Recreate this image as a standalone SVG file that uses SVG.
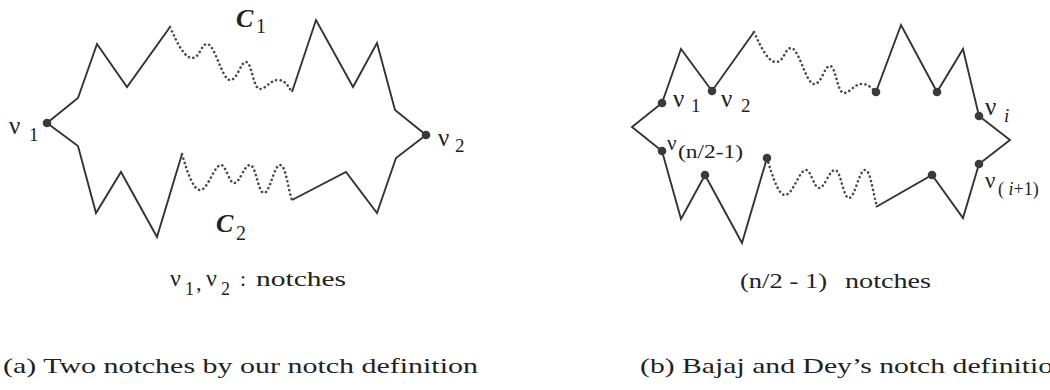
<svg xmlns="http://www.w3.org/2000/svg" width="1050" height="390" viewBox="0 0 1050 390">
<style>
.solid{fill:none;stroke:#333;stroke-width:1.9;stroke-linejoin:miter}
.dot{fill:none;stroke:#4a4a4a;stroke-width:2.6;stroke-dasharray:0.1 4.4;stroke-linecap:round}
.pt{fill:#3a3a3a}
.lbl{font-family:"Liberation Serif","Times New Roman",serif;fill:#222}
.cap{font-family:"Liberation Serif","Times New Roman",serif;fill:#222;font-size:22px}
.curve{font-family:"Liberation Serif","Times New Roman",serif;font-weight:bold;font-style:italic;fill:#222}
.sub{font-family:"Liberation Serif","Times New Roman",serif;fill:#222}
</style>
<g id="connectors">
  <!-- left figure -->
  <polyline class="solid" points="170,27 127,87 97,44 78,98 47,123 78,146 96,213 121,172 157,237 182,154"/>
  <polyline class="solid" points="292,92 316,20 353,87 377,43 395,110 426,135 396,158 377,213 346,172 292,200"/>
  <path class="dot" d="M170,27 C178,45 185,58 192,58 C200,58 201,44 207,44 C215,44 222,80 230,80 C238,80 240,62 246,62 C252,62 253,89 260,89 C266,89 270,80 278,80 C285,80 288,86 292,92"/>
  <path class="dot" d="M182,154 C188,175 194,190 200,190 C208,190 214,165 221,165 C226,165 229,183 234,183 C240,183 244,165 250,165 C256,165 258,193 264,193 C270,193 274,165 280,165 C286,165 288,190 292,200"/>
  <!-- right figure -->
  <polyline class="solid" points="754,32 712,91 681,49 662,103 632,127 662,151 681,219 705,175 742,243 767,158"/>
  <polyline class="solid" points="876,92 901,25 937,92 963,49 979,116 1010,140 979,164 963,218 932,175 876,207"/>
  <path class="dot" d="M754,32 C762,50 769,62 776,62 C784,62 785,48 791,48 C799,48 806,84 814,84 C822,84 824,66 830,66 C836,66 837,93 844,93 C850,93 854,84 862,84 C869,84 872,89 876,92"/>
  <path class="dot" d="M767,158 C773,179 779,195 785,195 C793,195 799,170 806,170 C811,170 814,188 819,188 C825,188 829,170 835,170 C841,170 843,198 849,198 C855,198 859,170 865,170 C871,170 873,195 877,206"/>
</g>
<g id="fig-a">
  <circle class="pt" cx="47" cy="123" r="4.3"/>
  <circle class="pt" cx="426" cy="135" r="4.3"/>
  <text class="lbl" font-size="25" x="9" y="134">ν</text>
  <text class="lbl" font-size="19" x="29" y="141">1</text>
  <text class="lbl" font-size="25" x="438" y="146">ν</text>
  <text class="lbl" font-size="19" x="455" y="152">2</text>
  <text class="curve" font-size="26" x="236" y="27">C</text>
  <text class="sub" font-size="20" x="256" y="33">1</text>
  <text class="curve" font-size="26" x="216" y="232">C</text>
  <text class="sub" font-size="20" x="236" y="240">2</text>
  <g id="label-a">
    <text class="lbl" font-size="24" x="170" y="286">ν</text>
    <text class="lbl" font-size="18" x="185" y="295">1</text>
    <text class="lbl" font-size="22" x="196" y="290">,</text>
    <text class="lbl" font-size="24" x="206" y="286">ν</text>
    <text class="lbl" font-size="18" x="221" y="295">2</text>
    <text class="lbl" font-size="22" x="240" y="286">:</text>
    <text class="lbl" font-size="22" x="256" y="286" textLength="90" lengthAdjust="spacingAndGlyphs">notches</text>
  </g>
</g>
<g id="fig-b">
  <circle class="pt" cx="662" cy="103" r="4.3"/>
  <circle class="pt" cx="712" cy="91" r="4.3"/>
  <circle class="pt" cx="662" cy="151" r="4.3"/>
  <circle class="pt" cx="705" cy="175" r="4.3"/>
  <circle class="pt" cx="767" cy="158" r="4.3"/>
  <circle class="pt" cx="876" cy="92" r="4.3"/>
  <circle class="pt" cx="937" cy="92" r="4.3"/>
  <circle class="pt" cx="979" cy="116" r="4.3"/>
  <circle class="pt" cx="979" cy="164" r="4.3"/>
  <circle class="pt" cx="932" cy="175" r="4.3"/>
  <text class="lbl" font-size="25" x="673" y="107">ν</text>
  <text class="lbl" font-size="19" x="691" y="112">1</text>
  <text class="lbl" font-size="25" x="721" y="107">ν</text>
  <text class="lbl" font-size="19" x="741" y="112">2</text>
  <text class="lbl" font-size="21" x="667" y="150">ν</text>
  <text class="lbl" font-size="18" x="678" y="158" textLength="65" lengthAdjust="spacingAndGlyphs">(n/2-1)</text>
  <text class="lbl" font-size="25" x="985" y="115">ν</text>
  <text class="lbl" font-size="19" font-style="italic" x="1004" y="122">i</text>
  <text class="lbl" font-size="23" x="985" y="188">ν</text>
  <text class="lbl" font-size="18" x="998" y="195">(<tspan font-style="italic"> i</tspan>+1)</text>
  <g id="label-b">
    <text class="lbl" font-size="22" x="740" y="288" textLength="87" lengthAdjust="spacingAndGlyphs">(n/2 - 1)</text>
    <text class="lbl" font-size="22" x="845" y="288" textLength="86" lengthAdjust="spacingAndGlyphs">notches</text>
  </g>
</g>
<g id="captions">
  <text class="cap" x="3" y="373" textLength="475" lengthAdjust="spacingAndGlyphs">(a) Two notches by our notch definition</text>
  <text class="cap" x="640" y="373" textLength="428" lengthAdjust="spacingAndGlyphs">(b) Bajaj and Dey’s notch definition</text>
</g>
</svg>
